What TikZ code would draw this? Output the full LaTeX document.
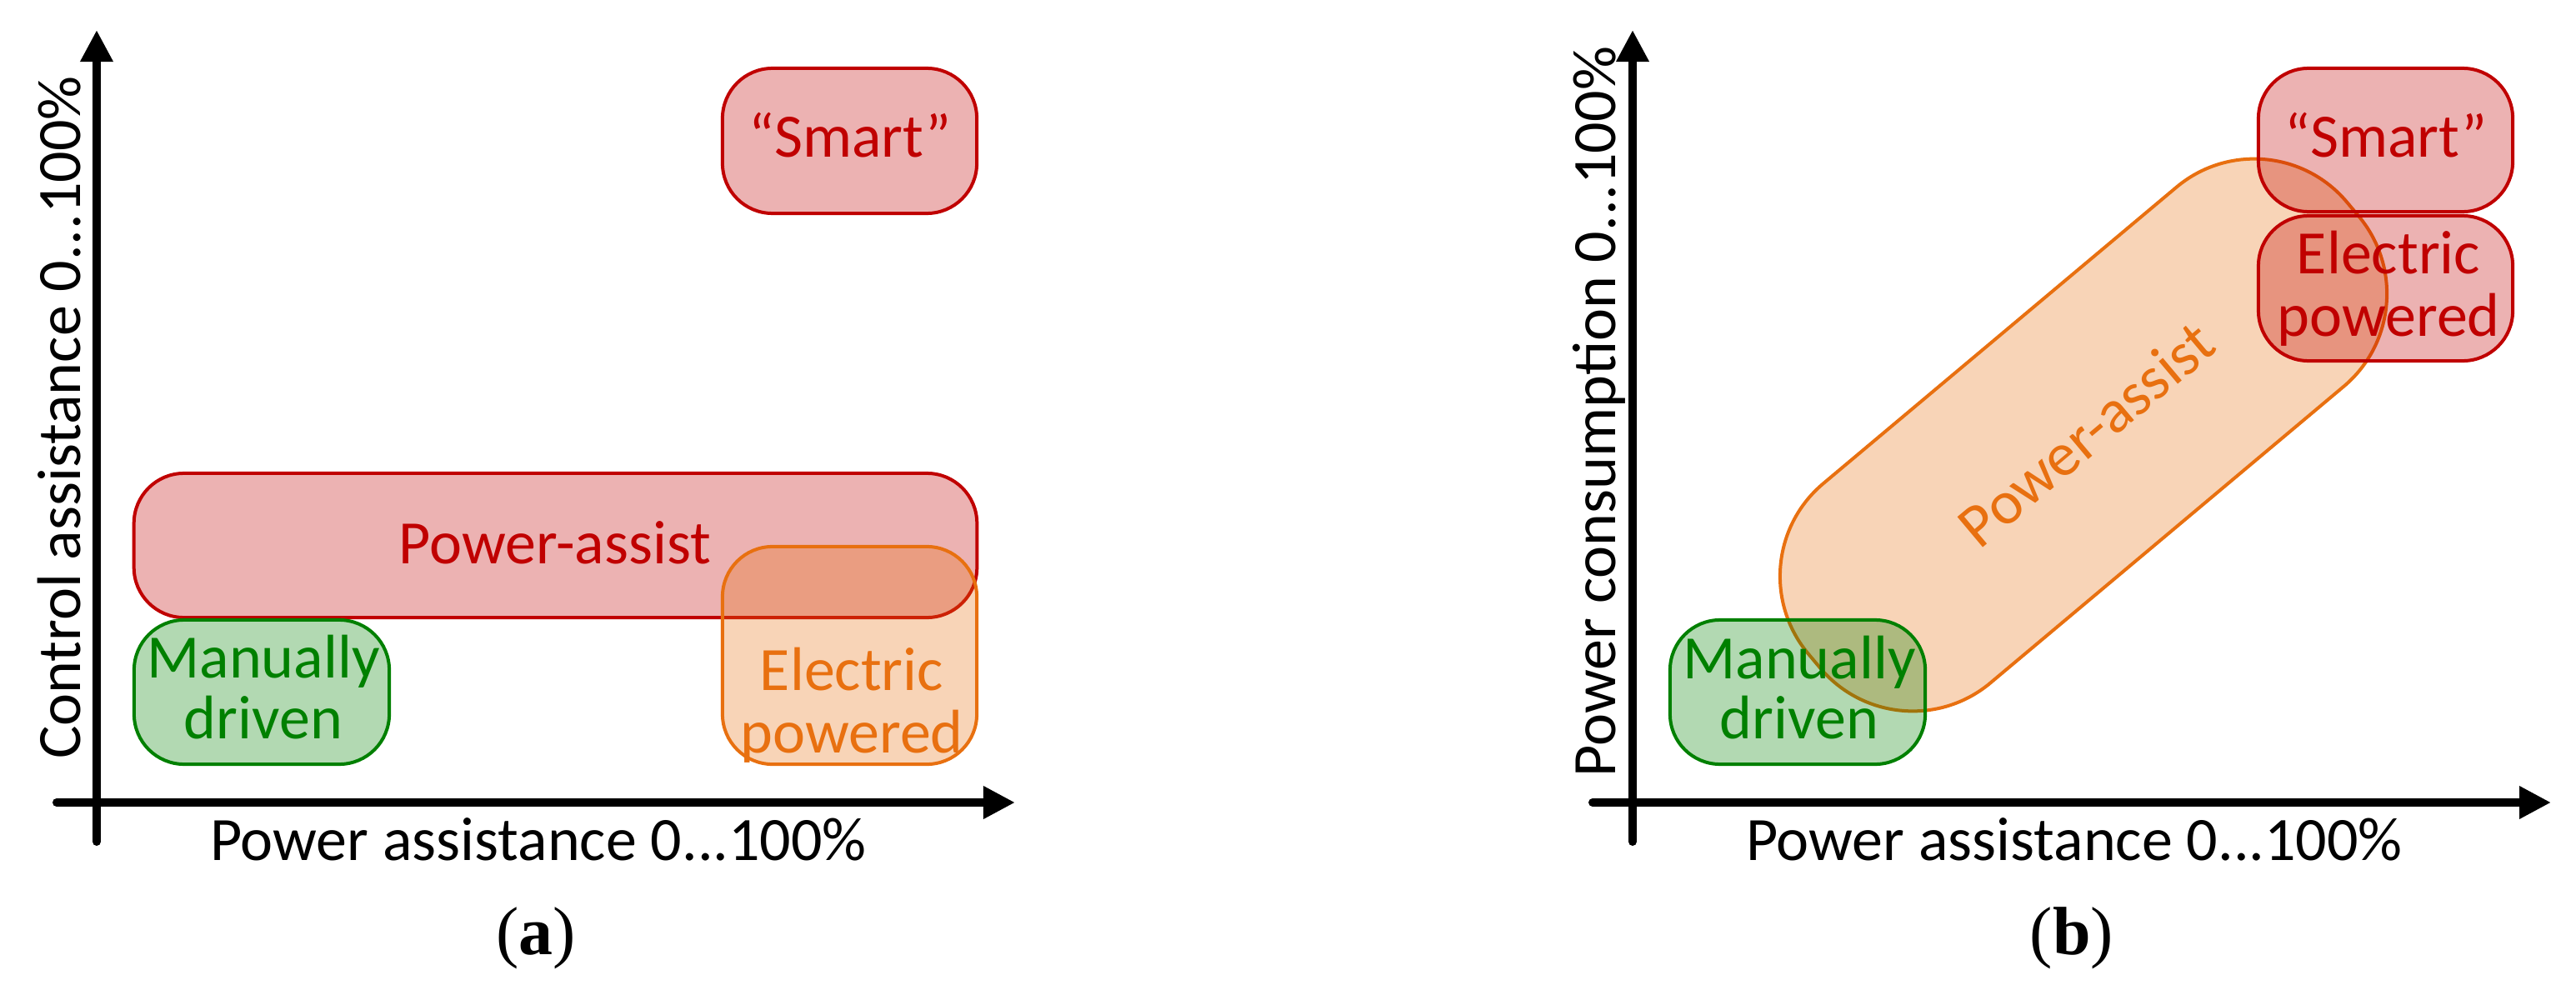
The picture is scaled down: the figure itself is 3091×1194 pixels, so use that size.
\documentclass[tikz,border=0pt]{standalone}
\usepackage{fontspec}
\setmainfont{Carlito}
\newfontfamily\capfont{Liberation Serif}
\usetikzlibrary{arrows.meta}
\definecolor{cred}{HTML}{C00000}
\definecolor{corange}{HTML}{E87010}
\definecolor{cgreen}{HTML}{008000}
\begin{document}
\begin{tikzpicture}[x=0.01cm,y=-0.01cm,
  axis/.style={line width=0.1cm, line cap=round, -{Triangle[length=0.38cm,width=0.37cm]}},
  region/.style={draw, line width=0.04cm, rounded corners=0.6cm, fill opacity=0.3, draw opacity=1, inner sep=0pt, outer sep=0pt},
  redbox/.style={region, draw=cred, fill=cred},
  orangebox/.style={region, draw=corange, fill=corange},
  greenbox/.style={region, draw=cgreen, fill=cgreen},
  lbl/.style={font=\fontsize{21.05pt}{21.05pt}\selectfont, inner sep=0pt, anchor=base},
  caplbl/.style={font=\capfont\fontsize{23.3pt}{23.3pt}\selectfont, inner sep=0pt, anchor=base},
]
\useasboundingbox (0,0) rectangle (3091,1194);

% ---------------- panel (a) ----------------
\coordinate (ay0) at (116,1010);
\coordinate (ay1) at (116,36);
\coordinate (ax0) at (68,963);
\coordinate (ax1) at (1218,963);
\draw[axis] (ay0) -- (ay1);
\draw[axis] (ax0) -- (ax1);

\node[redbox, minimum width=3.05cm, minimum height=1.74cm] (smartA) at (1019.5,169) {};
\node[redbox, minimum width=10.11cm, minimum height=1.73cm] (powerA) at (666.5,654.5) {};
\node[greenbox, minimum width=3.06cm, minimum height=1.73cm] (manA) at (314,830.5) {};
\node[orangebox, minimum width=3.05cm, minimum height=2.61cm] (elecA) at (1019.5,786.5) {};

\node[lbl, text=cred] (tsmartA) at (1020,189) {“Smart”};
\node[lbl, text=cred] (tpowerA) at (666,676) {Power-assist};
\node[lbl, text=cgreen] (tmanA1) at (316,813) {Manually};
\node[lbl, text=cgreen] (tmanA2) at (316,886) {driven};
\node[lbl, text=corange] (telecA1) at (1022,828) {Electric};
\node[lbl, text=corange] (telecA2) at (1022,903) {powered};

\node[lbl] (xlabA) at (646,1032) {Power assistance 0...100\%};
\node[lbl, rotate=90] (ylabA) at (97,501) {Control assistance 0...100\%};
\node[caplbl] (capA) at (643,1145) {(\textbf{a})};

% ---------------- panel (b) ----------------
\coordinate (by0) at (1959,1010);
\coordinate (by1) at (1959,36);
\coordinate (bx0) at (1911,963);
\coordinate (bx1) at (3061,963);
\draw[axis] (by0) -- (by1);
\draw[axis] (bx0) -- (bx1);

\node[orangebox, rotate=40, minimum width=8.43cm, minimum height=3.12cm, rounded corners=1.45cm] (powerB) at (2500,522) {};
\node[redbox, minimum width=3.05cm, minimum height=1.72cm] (smartB) at (2862.5,168) {};
\node[redbox, minimum width=3.05cm, minimum height=1.74cm] (elecB) at (2862.5,346) {};
\node[greenbox, minimum width=3.06cm, minimum height=1.73cm] (manB) at (2157,830.5) {};

\node[lbl, text=cred] (tsmartB) at (2863,189) {“Smart”};
\node[lbl, text=cred] (telecB1) at (2866,328) {Electric};
\node[lbl, text=cred] (telecB2) at (2866,403) {powered};
\node[lbl, text=cgreen] (tmanB1) at (2159,814) {Manually};
\node[lbl, text=cgreen] (tmanB2) at (2159,886) {driven};
\node[font=\fontsize{21.05pt}{21.05pt}\selectfont, inner sep=0pt, text=corange, rotate=40] (tpowerB) at (2503,521) {Power-assist};

\node[lbl] (xlabB) at (2489,1032) {Power assistance 0...100\%};
\node[lbl, rotate=90] (ylabB) at (1938,494) {Power consumption 0...100\%};
\node[caplbl] (capB) at (2486,1145) {(\textbf{b})};
\end{tikzpicture}
\end{document}
